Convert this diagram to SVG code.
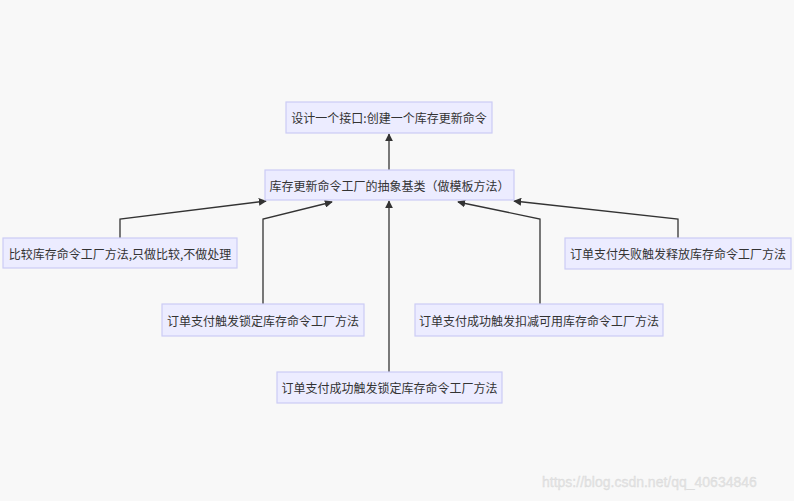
<svg xmlns="http://www.w3.org/2000/svg" width="794" height="501" viewBox="0 0 794 501">
<defs>
<marker id="arr" viewBox="0 0 10 10" refX="9" refY="5" markerWidth="8" markerHeight="8" orient="auto" markerUnits="userSpaceOnUse">
<path d="M0,0 L10,5 L0,10 z" fill="#333"/>
</marker>
<style>
.node rect{fill:#ECECFF;stroke:#CCCCF5;stroke-width:1.2}
.node text{font-family:"Noto Sans CJK SC","Noto Sans",sans-serif;font-size:12px;fill:#333;text-anchor:middle;dominant-baseline:central}
.edges path{fill:none;stroke:#333;stroke-width:1.3;marker-end:url(#arr)}
.wm{font-family:"Liberation Sans",Arial,sans-serif;font-size:14px;fill:#e4e4e4;stroke:#d8d8d8;stroke-width:0.3}
</style>
</defs>
<rect width="794" height="501" fill="#F8F8F8"/>
<g class="edges">
<path d="M389,170 L389,134"/>
<path d="M120,238 L120,219 L266,201"/>
<path d="M263,304 L263,219 L332,202"/>
<path d="M389,372 L389,201"/>
<path d="M540,304 L540,219 L458,202"/>
<path d="M678,238 L678,219 L514,201"/>
</g>
<g id="n1" class="node"><rect x="286" y="102" width="206" height="31"/><text x="389" y="117.5">设计一个接口:创建一个库存更新命令</text></g>
<g id="n2" class="node"><rect x="265" y="170" width="249" height="30"/><text x="389.5" y="185">库存更新命令工厂的抽象基类（做模板方法）</text></g>
<g id="n3" class="node"><rect x="3" y="238" width="234" height="30"/><text x="120" y="253">比较库存命令工厂方法,只做比较,不做处理</text></g>
<g id="n4" class="node"><rect x="162" y="304" width="202" height="32"/><text x="263" y="320">订单支付触发锁定库存命令工厂方法</text></g>
<g id="n5" class="node"><rect x="415" y="304" width="248" height="32"/><text x="539" y="320">订单支付成功触发扣减可用库存命令工厂方法</text></g>
<g id="n6" class="node"><rect x="565" y="238" width="226" height="31"/><text x="678" y="253.5">订单支付失败触发释放库存命令工厂方法</text></g>
<g id="n7" class="node"><rect x="277" y="372" width="225" height="31"/><text x="389.5" y="387.5">订单支付成功触发锁定库存命令工厂方法</text></g>
<text class="wm" x="542" y="487">https://blog.csdn.net/qq_40634846</text>
</svg>
